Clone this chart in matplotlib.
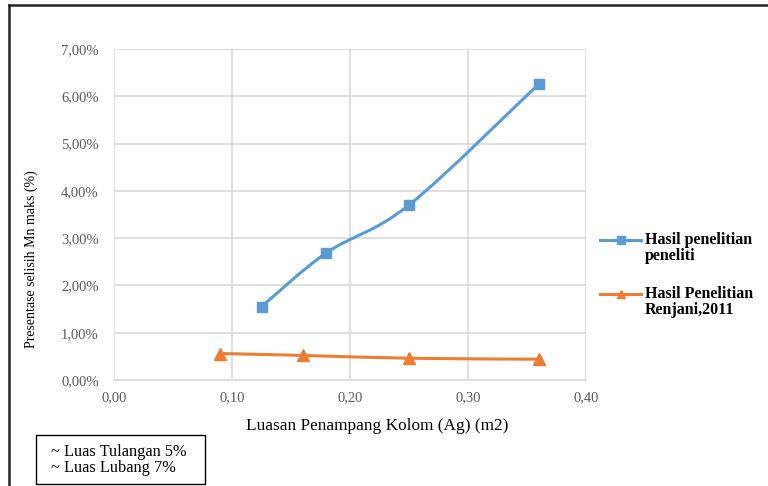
import matplotlib.pyplot as plt
import numpy as np
from matplotlib.path import Path
from matplotlib.patches import PathPatch, Rectangle
from matplotlib.lines import Line2D
from matplotlib.ticker import FuncFormatter

# ─── Data ──────────────────────────────────────────────────────────────────
ag_peneliti = [0.125, 0.18, 0.25, 0.36]
mn_peneliti = [1.55, 2.69, 3.70, 6.26]  # %

ag_renjani = [0.09, 0.16, 0.25, 0.36]
mn_renjani = [0.56, 0.52, 0.46, 0.44]  # %

label_peneliti = ["Hasil penelitian", "peneliti"]
label_renjani = ["Hasil Penelitian", "Renjani,2011"]
notes = ["~ Luas Tulangan 5%", "~ Luas Lubang 7%"]

BLUE = "#5B9BD5"
ORANGE = "#ED7D31"
GRID = "#D9D9D9"
TICK = "#595959"

plt.rcParams["font.family"] = ["Liberation Serif", "DejaVu Serif"]


def smooth_path(xs, ys):
    # Bezier path through the points (Catmull-Rom style tangents)
    p = np.column_stack([xs, ys]).astype(float)
    n = len(p)
    verts = [p[0]]
    codes = [Path.MOVETO]
    for i in range(n - 1):
        p0 = p[i - 1] if i > 0 else p[i]
        p3 = p[i + 2] if i + 2 < n else p[i + 1]
        c1 = p[i] + (p[i + 1] - p0) / 6.0
        c2 = p[i + 1] - (p3 - p[i]) / 6.0
        verts += [c1, c2, p[i + 1]]
        codes += [Path.CURVE4] * 3
    return Path(verts, codes)


def fx(px):
    return px / 768


def fy(py):
    return 1 - py / 486


fig = plt.figure(figsize=(7.68, 4.86), dpi=100)
ax = fig.add_axes([fx(114), 106 / 486, 472 / 768, 331 / 486])

for xs, ys, c in [(ag_peneliti, mn_peneliti, BLUE), (ag_renjani, mn_renjani, ORANGE)]:
    ax.add_patch(PathPatch(smooth_path(xs, ys), facecolor="none", edgecolor=c,
                           lw=2.2, capstyle="round", zorder=3))

ax.plot(ag_peneliti, mn_peneliti, ls="none", marker="s", ms=7.5, color=BLUE, zorder=4)
ax.plot(ag_renjani, mn_renjani, ls="none", marker="^", ms=8, color=ORANGE, zorder=4)

ax.set_xlim(0, 0.40)
ax.set_ylim(0, 7.0)
ax.set_xticks(np.arange(0, 0.41, 0.1))
ax.set_yticks(np.arange(0, 7.01, 1.0))
ax.xaxis.set_major_formatter(FuncFormatter(lambda v, _: f"{v:.2f}".replace(".", ",")))
ax.yaxis.set_major_formatter(FuncFormatter(lambda v, _: f"{v:.2f}%".replace(".", ",")))
ax.tick_params(axis="both", length=0, labelsize=10.5, labelcolor=TICK)
ax.tick_params(axis="y", pad=11)
ax.tick_params(axis="x", pad=8)
ax.grid(True, color=GRID, lw=1.2)
ax.set_axisbelow(True)
for s in ["top", "right", "left"]:
    ax.spines[s].set_visible(False)
ax.spines["bottom"].set_color(GRID)
ax.spines["bottom"].set_linewidth(1.2)

# axis titles
fig.text(fx(377), fy(426), "Luasan Penampang Kolom (Ag) (m2)", fontsize=12.4,
         ha="center", va="center")
fig.text(fx(31), fy(259), "Presentase selisih Mn maks (%)", fontsize=10,
         rotation=90, ha="center", va="center")

# legend on the right, drawn by hand so the key sits on the first text line
for (color, marker, lines, y0) in [(BLUE, "s", label_peneliti, 240),
                                   (ORANGE, "^", label_renjani, 294)]:
    fig.add_artist(Line2D([fx(600), fx(641)], [fy(y0), fy(y0)], color=color, lw=2.2))
    fig.add_artist(Line2D([fx(620.5)], [fy(y0)], color=color, marker=marker, ms=6, ls="none"))
    for k, txt in enumerate(lines):
        fig.text(fx(645), fy(y0 + 16 * k), txt, fontsize=11.5, weight="bold", va="center")

# outer frame lines (top and left)
fig.add_artist(Line2D([fx(9), 1], [fy(5), fy(5)], color="#222222", lw=1.8))
fig.add_artist(Line2D([fx(9), fx(9)], [0, fy(5)], color="#222222", lw=1.8))

# note box, bottom left
fig.add_artist(Rectangle((fx(36), fy(484)), 169 / 768, 49 / 486, transform=fig.transFigure,
                         facecolor="white", edgecolor="black", lw=1.0))
fig.text(fx(51), fy(452), notes[0], fontsize=11.8, va="center")
fig.text(fx(51), fy(468), notes[1], fontsize=11.8, va="center")

fig.savefig("out.png", dpi=100)
